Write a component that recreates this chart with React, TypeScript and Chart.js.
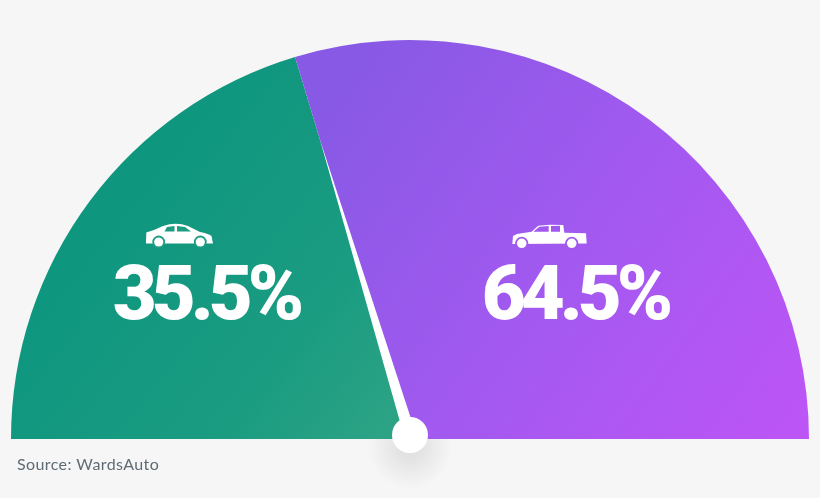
import React, { useEffect, useRef } from "react";
import { Chart, registerables } from "chart.js";

Chart.register(...registerables);

const categories = ["Cars", "Light trucks"];
const tickLabels = ["35.5%", "64.5%"];
// Arc shares as drawn in the picture (the drawn boundary differs from the printed labels).
const drawnShares = [40.7, 59.3];
const sourceLabel = "Source: WardsAuto";
const BG = "#f6f6f6";

function polygon(ctx: CanvasRenderingContext2D, pts: number[][]) {
  ctx.beginPath();
  pts.forEach((p, i) => (i ? ctx.lineTo(p[0], p[1]) : ctx.moveTo(p[0], p[1])));
  ctx.closePath();
  ctx.fill();
}

function wheel(ctx: CanvasRenderingContext2D, x: number, y: number, r: number, gap: string) {
  ctx.fillStyle = gap;
  ctx.beginPath();
  ctx.arc(x, y, r + 1.8, 0, Math.PI * 2);
  ctx.fill();
  ctx.fillStyle = "#fff";
  ctx.beginPath();
  ctx.arc(x, y, r, 0, Math.PI * 2);
  ctx.fill();
}

function drawSedan(ctx: CanvasRenderingContext2D) {
  const gap = "#1c9d82";
  ctx.fillStyle = "#fff";
  ctx.beginPath();
  ctx.moveTo(146, 243.5);
  ctx.lineTo(146.3, 232.5);
  ctx.quadraticCurveTo(155, 230, 163, 226);
  ctx.quadraticCurveTo(176, 221.5, 188, 226);
  ctx.lineTo(200, 232);
  ctx.quadraticCurveTo(208, 233.5, 211.5, 236);
  ctx.lineTo(213, 243.5);
  ctx.closePath();
  ctx.fill();
  ctx.fillStyle = gap;
  polygon(ctx, [[164.5, 231.5], [167, 227], [174.5, 226], [174.5, 231.5]]);
  polygon(ctx, [[177, 226], [185, 227], [191, 231.5], [177, 231.5]]);
  wheel(ctx, 158.7, 242, 4.6, gap);
  wheel(ctx, 200.3, 242, 4.6, gap);
}

function drawPickup(ctx: CanvasRenderingContext2D) {
  const gap = "#a158ee";
  ctx.fillStyle = "#fff";
  polygon(ctx, [
    [512.3, 244], [513, 236], [517, 234], [531.5, 231.7], [538.3, 225.7], [550, 224.8],
    [563.3, 225], [564.3, 232.7], [586, 233.3], [586.7, 243.5],
  ]);
  ctx.fillStyle = gap;
  polygon(ctx, [[533.3, 231.7], [539.3, 226.7], [548.7, 226], [548.7, 231.7]]);
  polygon(ctx, [[551, 226], [560, 225.7], [560, 231.7], [551, 231.7]]);
  wheel(ctx, 521.7, 243.3, 4.8, gap);
  wheel(ctx, 571.7, 243.3, 4.8, gap);
}

const gaugeDecor = {
  id: "gaugeDecor",
  beforeDatasetsDraw(chart: any) {
    const ctx: CanvasRenderingContext2D = chart.ctx;
    const arc = chart.getDatasetMeta(0).data[0];
    const cx = arc.x;
    const cy = arc.y;
    ctx.save();
    const g = ctx.createRadialGradient(cx, cy + 8, 10, cx, cy + 8, 42);
    g.addColorStop(0, "rgba(0,0,0,0.08)");
    g.addColorStop(1, "rgba(0,0,0,0)");
    ctx.fillStyle = g;
    ctx.fillRect(cx - 50, cy - 40, 100, 100);
    ctx.restore();
  },
  afterDatasetsDraw(chart: any) {
    const ctx: CanvasRenderingContext2D = chart.ctx;
    const arc = chart.getDatasetMeta(0).data[0];
    const cx = arc.x;
    const cy = arc.y - 4;
    const a = arc.endAngle; // boundary between the two slices
    const r = arc.outerRadius;
    ctx.save();
    const tipLen = r * 0.78;
    const ux = Math.cos(a);
    const uy = Math.sin(a);
    const w = 6;
    ctx.fillStyle = "#fff";
    polygon(ctx, [
      [cx + ux * tipLen, cy + 4 + uy * tipLen],
      [cx - uy * w, cy + ux * w],
      [cx + uy * w, cy - ux * w],
    ]);
    ctx.beginPath();
    ctx.arc(cx, cy, 18, 0, Math.PI * 2);
    ctx.fill();

    ctx.fillStyle = "#fff";
    ctx.textAlign = "center";
    ctx.textBaseline = "alphabetic";
    ctx.font = '900 76px Roboto, Lato, sans-serif';
    (ctx as any).letterSpacing = "-5px";
    ctx.fillText(tickLabels[0], 206, 319);
    ctx.fillText(tickLabels[1], 575, 319);
    (ctx as any).letterSpacing = "0px";

    drawSedan(ctx);
    drawPickup(ctx);

    ctx.textAlign = "left";
    ctx.fillStyle = "#5f6b73";
    ctx.font = '16px Lato, "Noto Sans", sans-serif';
    (ctx as any).letterSpacing = "0.4px";
    ctx.fillText(sourceLabel, 17, 469.5);
    ctx.restore();
  },
};

function sliceFill(context: any) {
  const { ctx } = context.chart;
  if (context.dataIndex === 0) {
    const g = ctx.createLinearGradient(60, 150, 400, 420);
    g.addColorStop(0, "#0b947e");
    g.addColorStop(0.7, "#1a9c81");
    g.addColorStop(1, "#2da385");
    return g;
  }
  const g = ctx.createLinearGradient(320, 90, 800, 440);
  g.addColorStop(0, "#8759e5");
  g.addColorStop(0.5, "#a259ef");
  g.addColorStop(1, "#bd55f6");
  return g;
}

export default function App() {
  const ref = useRef<HTMLCanvasElement>(null);
  useEffect(() => {
    const chart = new Chart(ref.current!, {
      type: "doughnut",
      data: {
        labels: categories,
        datasets: [{ data: drawnShares, backgroundColor: sliceFill, borderWidth: 0 }],
      },
      options: {
        responsive: false,
        animation: false,
        rotation: -90,
        circumference: 180,
        cutout: 0,
        layout: { padding: { left: 11, right: 11, top: 40, bottom: 59 } },
        plugins: { legend: { display: false }, tooltip: { enabled: false } },
      },
      plugins: [gaugeDecor],
    } as any);
    return () => chart.destroy();
  }, []);
  return (
    <div style={{ position: "fixed", left: 0, top: 0, width: 820, height: 498, background: BG }}>
      <canvas ref={ref} width={820} height={498} style={{ display: "block" }} />
    </div>
  );
}
